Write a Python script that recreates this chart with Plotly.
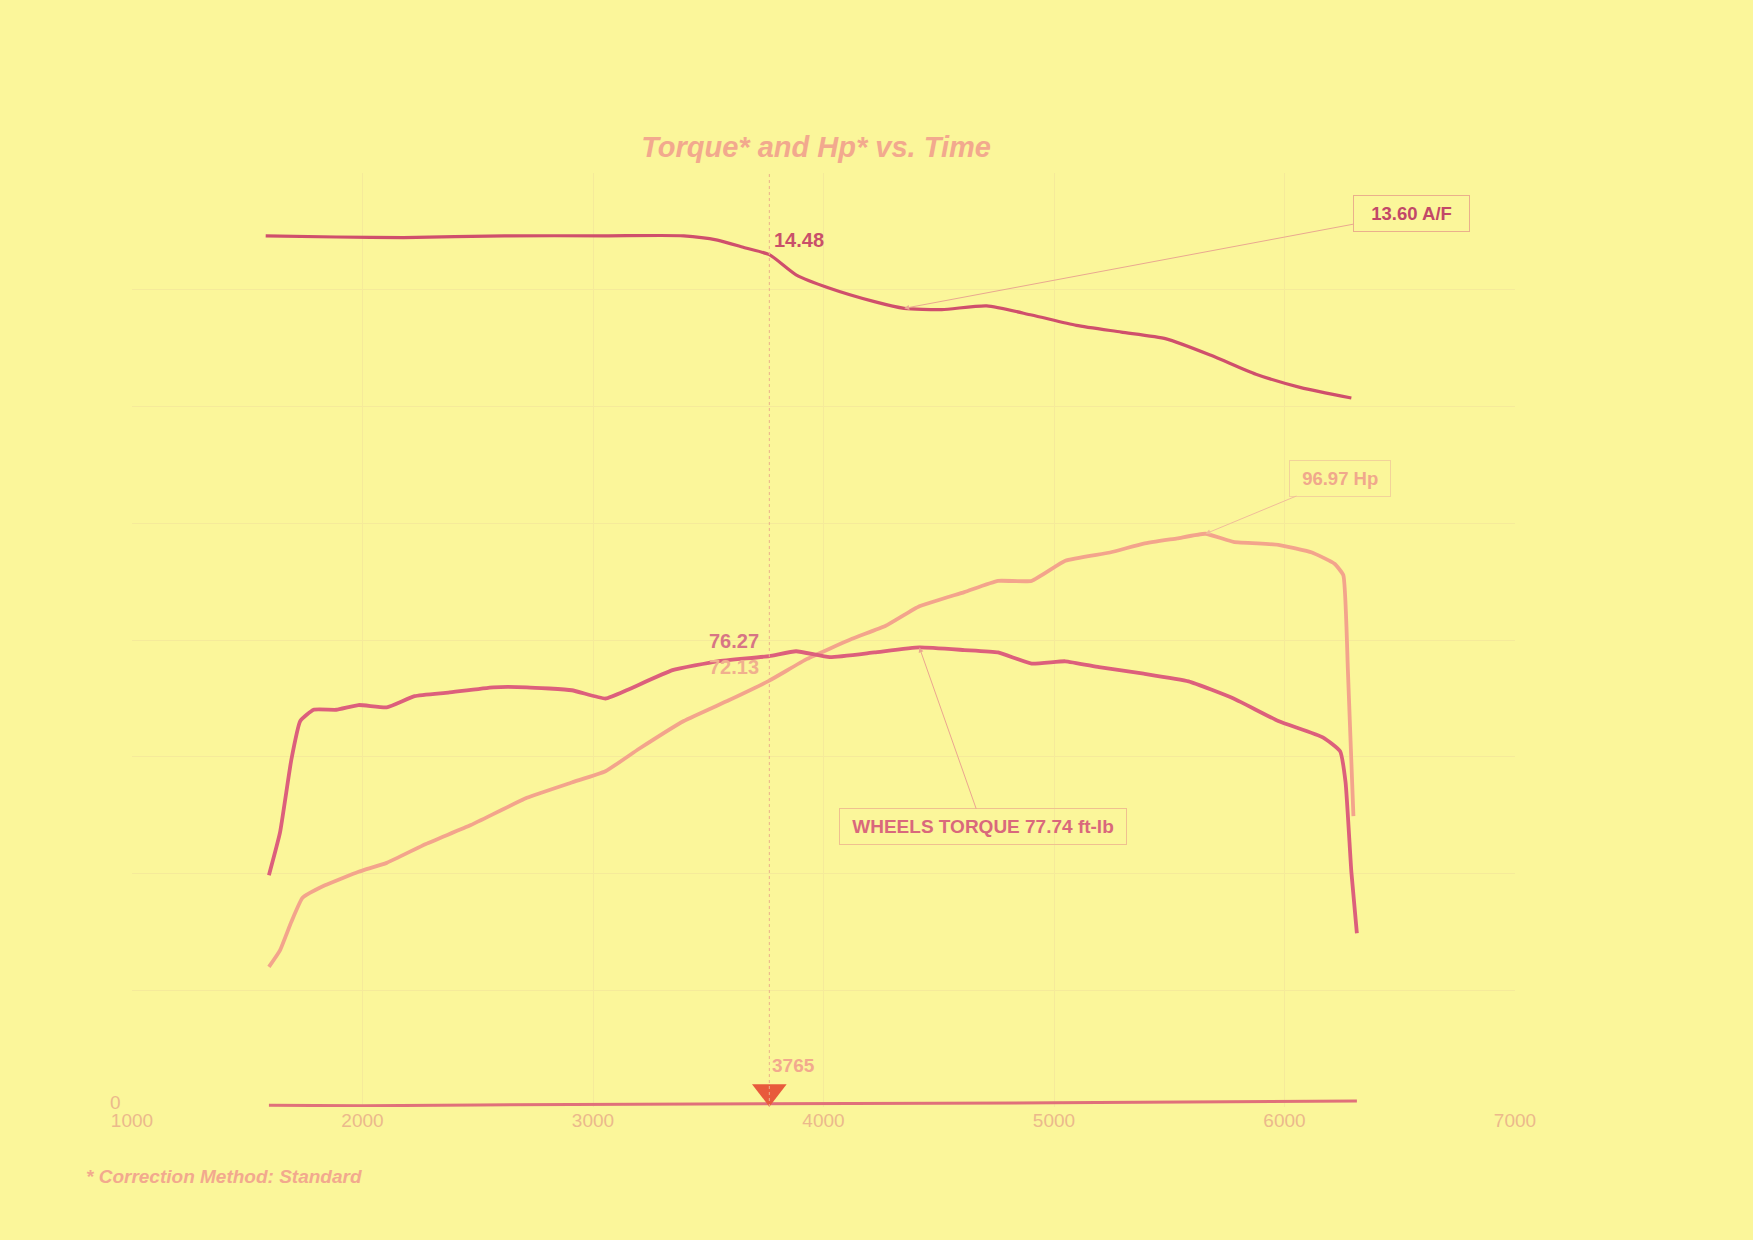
import plotly.graph_objects as go

# ---- data ----
rpm_tq = [1594, 1642, 1691, 1730, 1788, 1886, 1983, 2105, 2226, 2372, 2567, 2713, 2908, 3054, 3151,
          3345, 3540, 3765, 3881, 4027, 4221, 4416, 4611, 4757, 4903, 5049, 5195, 5389, 5584, 5779,
          5973, 6168, 6241, 6265, 6290, 6314]
torque = [39.2, 46.4, 58.7, 65.3, 67.2, 67.2, 68.0, 67.6, 69.5, 70.1, 71.0, 71.0, 70.5, 69.1, 70.6,
          73.9, 75.4, 76.27, 77.1, 76.1, 76.9, 77.74, 77.3, 76.9, 75.0, 75.4, 74.4, 73.3, 72.0, 69.1,
          65.3, 62.5, 60.2, 54.9, 39.8, 29.4]

rpm_hp = [1594, 1642, 1691, 1740, 1837, 1983, 2105, 2275, 2470, 2713, 2908, 3054, 3200, 3394, 3589,
          3765, 3929, 4124, 4270, 4416, 4611, 4757, 4903, 5049, 5243, 5389, 5535, 5657, 5779, 5973,
          6119, 6217, 6255, 6275, 6299]
hp = [23.7, 26.5, 31.3, 35.4, 37.5, 39.8, 41.3, 44.5, 47.7, 52.3, 54.9, 56.8, 60.6, 65.3, 68.8,
      72.13, 75.8, 79.2, 81.4, 84.7, 87.1, 89.0, 89.0, 92.4, 93.8, 95.3, 96.2, 96.97, 95.6, 95.1,
      93.8, 91.9, 90.0, 73.9, 49.2]

rpm_af = [1580, 1886, 2178, 2616, 3054, 3394, 3540, 3662, 3765, 3881, 4027, 4221, 4350, 4513, 4708,
          4903, 5097, 5292, 5487, 5681, 5876, 6071, 6290]
afr = [14.79, 14.77, 14.76, 14.79, 14.79, 14.79, 14.72, 14.59, 14.48, 14.15, 13.93, 13.71, 13.60,
       13.58, 13.64, 13.49, 13.32, 13.21, 13.10, 12.83, 12.52, 12.30, 12.13]

rpm_base = [1594, 2000, 2500, 3000, 3500, 4000, 4500, 5000, 5500, 6000, 6314]
base = [0.3, 0.2, 0.35, 0.45, 0.5, 0.6, 0.65, 0.7, 0.8, 0.9, 1.0]

cursor_rpm = 3765
x_ticks = [1000, 2000, 3000, 4000, 5000, 6000, 7000]

# ---- styles ----
BG = "#fbf69a"
TQ = "#dc5f7c"
AF = "#cf4f6c"
HP = "#f3a48c"
LIGHT = "#f2a98e"
TICK = "#ebb98c"
GRID = "#f5ea9a"
FONT = "Liberation Sans, Arial, sans-serif"

fig = go.Figure()

fig.add_trace(go.Scatter(x=rpm_hp, y=hp, mode="lines", line=dict(color=HP, width=3.8, shape="spline", smoothing=0.4),
                         hoverinfo="skip", showlegend=False))
fig.add_trace(go.Scatter(x=rpm_tq, y=torque, mode="lines", line=dict(color=TQ, width=3.8, shape="spline", smoothing=0.4),
                         hoverinfo="skip", showlegend=False))
fig.add_trace(go.Scatter(x=rpm_af, y=afr, mode="lines", yaxis="y2",
                         line=dict(color=AF, width=3.2, shape="spline", smoothing=0.6),
                         hoverinfo="skip", showlegend=False))
fig.add_trace(go.Scatter(x=rpm_base, y=base, mode="lines", line=dict(color="#e0707a", width=3),
                         hoverinfo="skip", showlegend=False))
# cursor marker
fig.add_trace(go.Scatter(x=[cursor_rpm], y=[2.6], mode="markers",
                         marker=dict(symbol="triangle-down", size=30, color="#e85a3c", line=dict(width=0)),
                         hoverinfo="skip", showlegend=False))

# cursor vertical dotted line
fig.add_shape(type="line", xref="x", yref="paper", x0=cursor_rpm, x1=cursor_rpm, y0=0, y1=1,
              line=dict(color="#eab08c", width=1, dash="dot"))

annotations = [
    dict(x=3895, y=146.6, xref="x", yref="y", text="<b>14.48</b>", showarrow=False,
         font=dict(family=FONT, size=20, color="#c9506a")),
    dict(x=3613, y=78.8, xref="x", yref="y", text="<b>76.27</b>", showarrow=False,
         font=dict(family=FONT, size=20, color="#d77585")),
    dict(x=3613, y=74.4, xref="x", yref="y", text="<b>72.13</b>", showarrow=False,
         font=dict(family=FONT, size=20, color="#f0b08e")),
    dict(x=3871, y=7.0, xref="x", yref="y", text="<b>3765</b>", showarrow=False,
         font=dict(family=FONT, size=19, color=LIGHT)),
    dict(x=4350, y=13.60, xref="x", yref="y2", ax=6552, ay=15.16, axref="x", ayref="y2",
         text="&nbsp;&nbsp;<b>13.60 A/F</b>&nbsp;&nbsp;", showarrow=True, arrowhead=2, arrowsize=1, arrowwidth=1,
         arrowcolor="#e9a890", bordercolor="#eab08c", borderwidth=1, borderpad=7,
         font=dict(family=FONT, size=18.5, color="#c24868")),
    dict(x=5657, y=96.97, xref="x", yref="y", ax=6240, ay=106.4, axref="x", ayref="y",
         text="&nbsp;<b>96.97 Hp</b>&nbsp;", showarrow=True, arrowhead=2, arrowsize=1, arrowwidth=1,
         arrowcolor="#f0bc9a", bordercolor="#f2d29a", borderwidth=1, borderpad=7,
         font=dict(family=FONT, size=18.5, color="#f0a88c")),
    dict(x=4416, y=77.74, xref="x", yref="y", ax=4690, ay=47.4, axref="x", ayref="y",
         text="&nbsp;<b>WHEELS TORQUE 77.74 ft-lb</b>&nbsp;", showarrow=True, arrowhead=2, arrowsize=1, arrowwidth=1,
         arrowcolor="#eba590", bordercolor="#efc090", borderwidth=1, borderpad=7,
         font=dict(family=FONT, size=19, color="#d9687c")),
    dict(x=-0.0347, y=-0.074, xref="paper", yref="paper", xanchor="left", yanchor="middle",
         text="<b><i>* Correction Method: Standard</i></b>", showarrow=False,
         font=dict(family=FONT, size=19, color=LIGHT)),
]

fig.update_layout(
    width=1753, height=1240,
    paper_bgcolor=BG, plot_bgcolor=BG,
    margin=dict(l=132, r=238, t=173, b=133),
    title=dict(text="<b><i>Torque* and Hp* vs. Time</i></b>", x=0.4655, xanchor="center",
               y=0.8815, yanchor="middle", font=dict(family=FONT, size=29, color=LIGHT)),
    xaxis=dict(range=[1000, 7000], tickvals=x_ticks, ticktext=[str(v) for v in x_ticks],
               showgrid=True, gridcolor=GRID, gridwidth=1, zeroline=False, showline=False,
               tickfont=dict(family=FONT, size=19, color=TICK), ticks="", ticklabelstandoff=0),
    yaxis=dict(range=[0, 158], tickmode="linear", tick0=0, dtick=19.75, showgrid=True,
               gridcolor=GRID, gridwidth=1, zeroline=False, showline=False,
               showticklabels=False),
    yaxis2=dict(range=[0.50, 15.82], overlaying="y", side="right", showgrid=False,
                showticklabels=False, zeroline=False, showline=False),
    annotations=annotations,
    showlegend=False,
)
fig.add_annotation(x=1000, y=0, xref="x", yref="y", text="0", showarrow=False, xanchor="right",
                   yanchor="bottom", xshift=-9, yshift=-8, font=dict(family=FONT, size=19, color=TICK))

fig.write_html("out.html", config={"displayModeBar": False},
               post_script="document.body.style.margin='0';document.body.style.background='#fbf69a';")
